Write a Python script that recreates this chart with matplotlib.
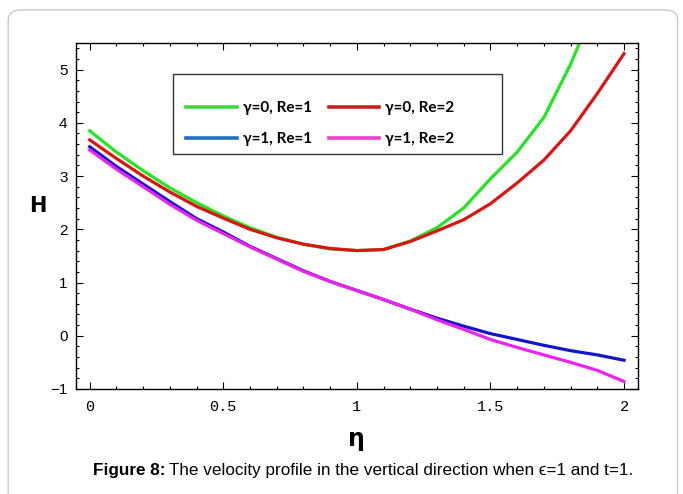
import numpy as np
import matplotlib.pyplot as plt
from matplotlib.patches import FancyBboxPatch, Rectangle
from matplotlib.ticker import MultipleLocator

# eta grid and H values
eta = [0.0, 0.1, 0.2, 0.3, 0.4, 0.5, 0.6, 0.7, 0.8, 0.9, 1.0,
       1.1, 1.2, 1.3, 1.4, 1.5, 1.6, 1.7, 1.8, 1.9, 2.0]
h_g0_re1 = [3.85, 3.45, 3.10, 2.78, 2.50, 2.25, 2.03, 1.85, 1.72, 1.63, 1.60,
            1.62, 1.78, 2.03, 2.40, 2.95, 3.45, 4.10, 5.10, 6.30, 7.60]
h_g0_re2 = [3.68, 3.33, 3.00, 2.70, 2.43, 2.21, 2.00, 1.84, 1.72, 1.64, 1.60,
            1.62, 1.77, 1.97, 2.18, 2.48, 2.87, 3.30, 3.85, 4.55, 5.30]
h_g1_re1 = [3.55, 3.18, 2.85, 2.52, 2.20, 1.95, 1.68, 1.45, 1.22, 1.02, 0.85,
            0.68, 0.50, 0.33, 0.18, 0.04, -0.07, -0.18, -0.28, -0.36, -0.46]
h_g1_re2 = [3.49, 3.13, 2.80, 2.47, 2.17, 1.92, 1.67, 1.44, 1.21, 1.02, 0.85,
            0.68, 0.50, 0.30, 0.12, -0.07, -0.22, -0.36, -0.50, -0.65, -0.86]

labels = ['γ=0, Re=1', 'γ=1, Re=1', 'γ=0, Re=2', 'γ=1, Re=2']
legend_colors = ['#3ed83e', '#2070c0', '#c82020', '#ee40cc']

fig = plt.figure(figsize=(6.83, 4.94), dpi=100)

# light rounded frame around the figure
frame = FancyBboxPatch((0.012, -0.05), 0.98, 1.03, boxstyle='round,pad=0,rounding_size=0.02',
                       transform=fig.transFigure, facecolor='none', edgecolor='#c8c8c8', lw=1.0)
fig.patches.append(frame)

ax = fig.add_axes([0.111, 0.2126, 0.823, 0.7004])

for ys, c in zip([h_g0_re1, h_g0_re2, h_g1_re1, h_g1_re2],
                 ['#22e622', '#dc1414', '#1414c8', '#ee22ee']):
    ax.plot(eta, ys, color=c, lw=2.3)

ax.set_xlim(-0.052, 2.052)
ax.set_ylim(-1.0, 5.5)
ax.xaxis.set_major_locator(MultipleLocator(0.5))
ax.xaxis.set_minor_locator(MultipleLocator(0.1))
ax.yaxis.set_major_locator(MultipleLocator(1))
ax.yaxis.set_minor_locator(MultipleLocator(0.2))
ax.tick_params(which='both', direction='in', top=True, right=True, width=0.8)
ax.tick_params(which='major', length=5)
ax.tick_params(which='minor', length=2.5)
ax.set_xticks([0, 0.5, 1, 1.5, 2])
ax.set_xticklabels(['0', '0.5', '1', '1.5', '2'], family='Liberation Mono', fontsize=11)
ax.set_yticks([-1, 0, 1, 2, 3, 4, 5])
ax.set_yticklabels(['−1', '0', '1', '2', '3', '4', '5'], family='Liberation Sans', fontsize=11)
ax.tick_params(axis='x', pad=8)
ax.tick_params(axis='y', pad=6)
for s in ax.spines.values():
    s.set_linewidth(1.0)

ax.set_xlabel('η', fontsize=17, fontweight='bold', labelpad=9)
ax.set_ylabel('H', fontsize=15, fontweight='bold', rotation=0)
ax.yaxis.set_label_coords(-0.068, 0.5)

# legend box drawn separately so its size matches the reference
ax.add_patch(Rectangle((0.173, 0.679), 0.585, 0.231, transform=ax.transAxes,
                       facecolor='white', edgecolor='#333333', lw=1.0, zorder=3))
handles = [plt.Line2D([], [], color=c, lw=2.6) for c in legend_colors]
leg = ax.legend(handles, labels, ncol=2, loc='upper left', bbox_to_anchor=(0.175, 0.868),
                frameon=False, handlelength=3.3, handletextpad=0.4, columnspacing=1.1,
                labelspacing=1.15, borderpad=0.3,
                prop={'family': ['Lato', 'DejaVu Sans'], 'weight': 'bold', 'size': 11})
leg.set_zorder(4)

t1 = fig.text(0.136, 0.038, 'Figure 8:', fontsize=12.3, family='Liberation Sans', fontweight='bold')
fig.canvas.draw()
bb = t1.get_window_extent().transformed(fig.transFigure.inverted())
fig.text(bb.x1 + 0.006, 0.038, 'The velocity profile in the vertical direction when ϵ=1 and t=1.',
         fontsize=12.3, family=['Liberation Sans', 'DejaVu Sans'])

fig.savefig('out.png', dpi=100)
